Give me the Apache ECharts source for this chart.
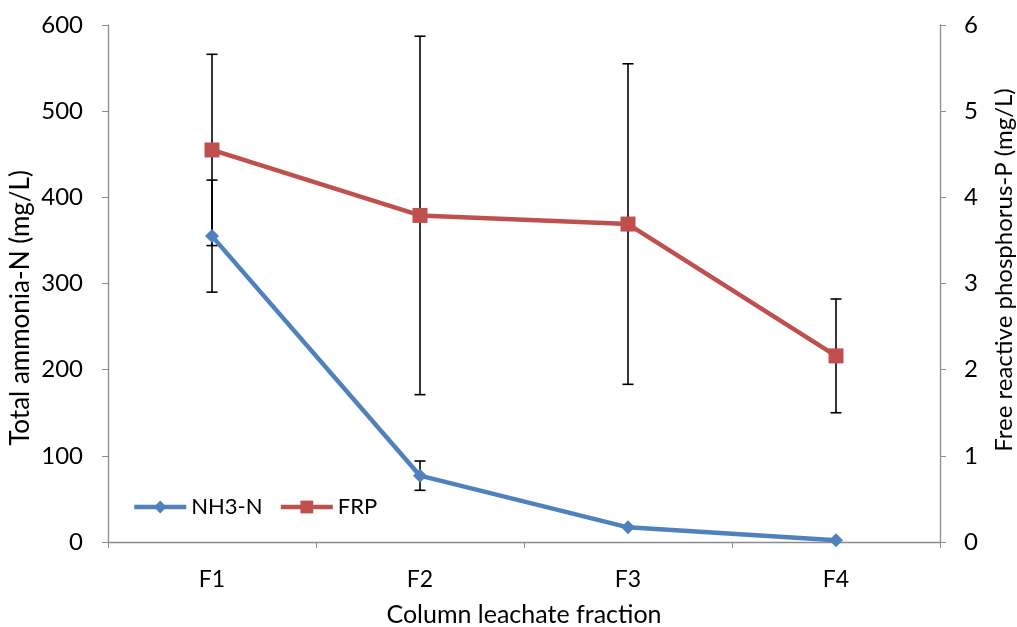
<!DOCTYPE html>
<html><head><meta charset="utf-8">
<script src="https://cdn.jsdelivr.net/npm/echarts@6/dist/echarts.min.js"></script>
<style>html,body{margin:0;padding:0;background:#fff}#c{width:1017px;height:627px}</style>
</head><body><div id="c"></div>
<script>
var categories = ['F1', 'F2', 'F3', 'F4'];
var nh3 = [355, 77, 17, 2];
var nh3Err = [65, 17, 0, 0];
var frp = [4.55, 3.79, 3.69, 2.16];
var frpErr = [1.11, 2.08, 1.86, 0.66];
var leftTicks = [0, 100, 200, 300, 400, 500, 600];
var rightTicks = [0, 1, 2, 3, 4, 5, 6];
var leftTitle = 'Total ammonia-N (mg/L)';
var rightTitle = 'Free reactive phosphorus-P (mg/L)';
var xTitle = 'Column leachate fraction';

var FONT = 'Lato';
function errSeries(vals, errs, yIdx) {
  var d = vals.map(function (v, i) { return [i, v - errs[i], v + errs[i]]; });
  return {
    type: 'custom', yAxisIndex: yIdx, z: 1, silent: true,
    data: d,
    renderItem: function (params, api) {
      var lo = api.coord([api.value(0), api.value(1)]);
      var hi = api.coord([api.value(0), api.value(2)]);
      if (Math.abs(hi[1] - lo[1]) < 1) return;
      var w = 5.5;
      var st = { stroke: '#000', lineWidth: 1.6 };
      return { type: 'group', children: [
        { type: 'line', shape: { x1: lo[0], y1: lo[1], x2: hi[0], y2: hi[1] }, style: st },
        { type: 'line', shape: { x1: lo[0] - w, y1: lo[1], x2: lo[0] + w, y2: lo[1] }, style: st },
        { type: 'line', shape: { x1: hi[0] - w, y1: hi[1], x2: hi[0] + w, y2: hi[1] }, style: st }
      ]};
    }
  };
}
var axisLineStyle = { show: true, lineStyle: { color: '#8c8c8c', width: 1.3 } };
var chart = echarts.init(document.getElementById('c'));
chart.setOption({
  animation: false,
  textStyle: { fontFamily: FONT },
  grid: { left: 108, right: 77, top: 25, bottom: 85, containLabel: false, outerBoundsMode: 'none' },
  legend: {
    left: 127, top: 491, itemWidth: 52, itemHeight: 16, itemGap: 16,
    lineStyle: { width: 4.5 },
    textStyle: { fontFamily: FONT, fontSize: 22, color: '#000' },
    data: ['NH3-N', 'FRP']
  },
  graphic: [
    { type: 'text', z: 10, rotation: Math.PI / 2, x: 21, y: 308,
      style: { text: leftTitle, font: '26px Lato', fill: '#000', textAlign: 'center', textVerticalAlign: 'middle' } },
    { type: 'text', z: 10, rotation: Math.PI / 2, x: 1004, y: 270,
      style: { text: rightTitle, font: '24px Lato', fill: '#000', textAlign: 'center', textVerticalAlign: 'middle' } }
  ],
  xAxis: {
    type: 'category', data: categories, boundaryGap: true,
    axisLine: axisLineStyle,
    axisTick: { show: true, length: 6, lineStyle: { color: '#8c8c8c' } },
    axisLabel: { fontFamily: FONT, fontSize: 23, color: '#000', margin: 26 },
    name: xTitle, nameLocation: 'middle', nameGap: 60,
    nameTextStyle: { fontFamily: FONT, fontSize: 25, color: '#000' }
  },
  yAxis: [{
    type: 'value', min: leftTicks[0], max: leftTicks[leftTicks.length - 1], interval: 100,
    axisLine: axisLineStyle,
    axisTick: { show: true, length: 6, lineStyle: { color: '#8c8c8c' } },
    splitLine: { show: false },
    axisLabel: { fontFamily: FONT, fontSize: 24, color: '#000', margin: 25 }
  }, {
    type: 'value', position: 'right', min: rightTicks[0], max: rightTicks[rightTicks.length - 1], interval: 1,
    axisLine: axisLineStyle,
    axisTick: { show: true, length: 6, lineStyle: { color: '#8c8c8c' } },
    splitLine: { show: false },
    axisLabel: { fontFamily: FONT, fontSize: 24, color: '#000', margin: 24 }
  }],
  series: [
    errSeries(nh3, nh3Err, 0),
    errSeries(frp, frpErr, 1),
    {
      name: 'NH3-N', type: 'line', yAxisIndex: 0, data: nh3, z: 3,
      symbol: 'diamond', symbolSize: 14,
      lineStyle: { color: '#4F81BD', width: 4.5 },
      itemStyle: { color: '#4F81BD' }
    },
    {
      name: 'FRP', type: 'line', yAxisIndex: 1, data: frp, z: 4,
      symbol: 'rect', symbolSize: 15,
      lineStyle: { color: '#C0504D', width: 4.5 },
      itemStyle: { color: '#C0504D' }
    }
  ]
});
</script></body></html>
